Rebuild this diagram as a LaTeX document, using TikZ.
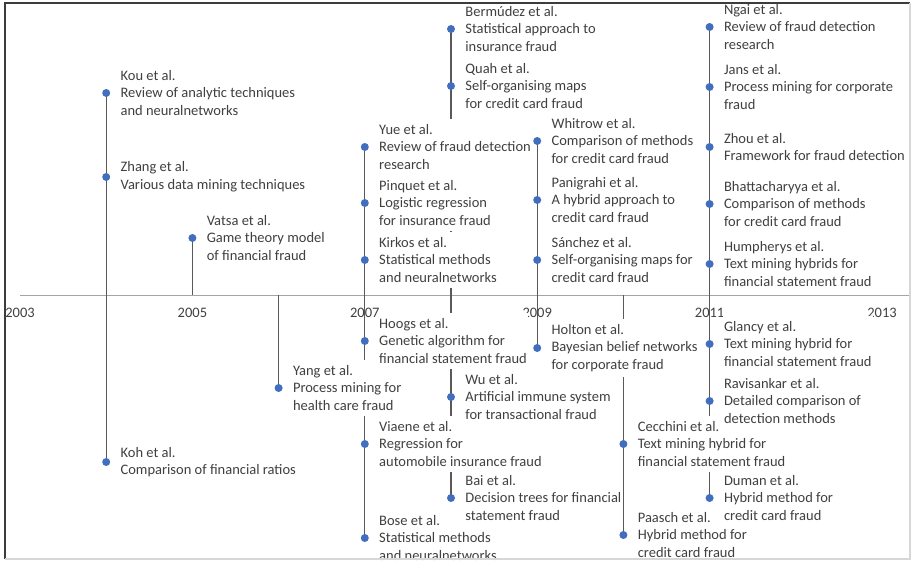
\documentclass[tikz,border=0pt]{standalone}
\usepackage{fontspec}
\setmainfont{Carlito}
\usetikzlibrary{positioning}
\definecolor{dotBlue}{RGB}{65,110,190}
\definecolor{textGray}{RGB}{64,64,64}
\definecolor{stemGray}{RGB}{89,89,89}
\definecolor{axisGray}{RGB}{165,165,165}
\definecolor{frameDark}{RGB}{60,60,60}
\definecolor{frameLight}{RGB}{215,215,215}
\pgfdeclarelayer{stems}
\pgfsetlayers{stems,main}

\begin{document}
\begin{tikzpicture}[x=1pt, y=-1pt,
			dot/.style={circle, fill=dotBlue, inner sep=0pt, minimum size=8pt},
			textbox/.style={fill=white, text=textGray, align=left, inner xsep=1pt, inner ysep=5.5pt, font=\fontsize{14.5}{17.6}\selectfont},
			yearText/.style={text=textGray, inner sep=0pt, font=\fontsize{14.5}{17.6}\selectfont},
			stem/.style={stemGray, line width=1.3pt},
			axis/.style={axisGray, line width=1pt},
			frameTop/.style={frameDark, line width=1.2pt},
			frameBottom/.style={frameLight, line width=1.2pt},
			]
			\useasboundingbox (0,0) rectangle (912,561);
			
			% years
			\foreach \yr in {2003,...,2013}
			\coordinate (a\yr) at ({20+86.2*(\yr-2003)},295);
			\coordinate (axisEnd) at (910,295);
			\foreach \yr in {2003,2005,...,2013}
			{\draw node[yearText][below=12.5pt of a\yr] (year\yr) {\yr};}
			
			% dots above the axis
			\draw node[dot] (kou) at (a2004 |- 0,93) {};
			\draw node[dot] (zhang) at (a2004 |- 0,177) {};
			\draw node[dot] (vatsa) at (a2005 |- 0,238) {};
			\draw node[dot] (yue) at (a2007 |- 0,147) {};
			\draw node[dot] (pinquet) at (a2007 |- 0,203) {};
			\draw node[dot] (kirkos) at (a2007 |- 0,260) {};
			\draw node[dot] (bermudez) at (a2008 |- 0,29) {};
			\draw node[dot] (quah) at (a2008 |- 0,86) {};
			\draw node[dot] (whitrow) at (a2009 |- 0,141) {};
			\draw node[dot] (panigrahi) at (a2009 |- 0,200) {};
			\draw node[dot] (sanchez) at (a2009 |- 0,260) {};
			\draw node[dot] (ngai) at (a2011 |- 0,27) {};
			\draw node[dot] (jans) at (a2011 |- 0,87) {};
			\draw node[dot] (zhou) at (a2011 |- 0,147) {};
			\draw node[dot] (bhatta) at (a2011 |- 0,204) {};
			\draw node[dot] (humpherys) at (a2011 |- 0,264) {};
			
			% dots below the axis
			\draw node[dot] (koh) at (a2004 |- 0,462) {};
			\draw node[dot] (yang) at (a2006 |- 0,388) {};
			\draw node[dot] (hoogs) at (a2007 |- 0,341) {};
			\draw node[dot] (viaene) at (a2007 |- 0,444) {};
			\draw node[dot] (bose) at (a2007 |- 0,538) {};
			\draw node[dot] (wu) at (a2008 |- 0,397) {};
			\draw node[dot] (bai) at (a2008 |- 0,498) {};
			\draw node[dot] (holton) at (a2009 |- 0,348) {};
			\draw node[dot] (cecchini) at (a2010 |- 0,444) {};
			\draw node[dot] (paasch) at (a2010 |- 0,535) {};
			\draw node[dot] (glancy) at (a2011 |- 0,344) {};
			\draw node[dot] (ravisankar) at (a2011 |- 0,401) {};
			\draw node[dot] (duman) at (a2011 |- 0,498) {};
			
			% stems
			\begin{pgfonlayer}{stems}
			\draw[axis] (a2003) -- (axisEnd);
			\draw[stem] (kou.center) -- (koh.center);
			\draw[stem] (vatsa.center) -- (a2005);
			\draw[stem] (a2006) -- (yang.center);
			\draw[stem] (yue.center) -- (bose.center);
			\draw[stem] (bermudez.center) -- (bai.center);
			\draw[stem] (whitrow.center) -- (holton.center);
			\draw[stem] (a2010) -- (paasch.center);
			\draw[stem] (ngai.center) -- (duman.center);
			\end{pgfonlayer}
			
			% texts above
			\draw node[textbox][right=9pt of kou] (kouText) {Kou et al.\\Review of analytic techniques\\and neuralnetworks};
			\draw node[textbox][right=9pt of zhang] (zhangText) {Zhang et al.\\Various data mining techniques};
			\draw node[textbox][right=9pt of vatsa] (vatsaText) {Vatsa et al.\\Game theory model\\of financial fraud};
			\draw node[textbox][right=9pt of yue] (yueText) {Yue et al.\\Review of fraud detection\\research};
			\draw node[textbox][right=9pt of pinquet] (pinquetText) {Pinquet et al.\\Logistic regression\\for insurance fraud};
			\draw node[textbox][right=9pt of kirkos] (kirkosText) {Kirkos et al.\\Statistical methods\\and neuralnetworks};
			\draw node[textbox][right=9pt of bermudez] (bermudezText) {Bermúdez et al.\\Statistical approach to\\insurance fraud};
			\draw node[textbox][right=9pt of quah] (quahText) {Quah et al.\\Self-organising maps\\for credit card fraud};
			\draw node[textbox][right=9pt of whitrow] (whitrowText) {Whitrow et al.\\Comparison of methods\\for credit card fraud};
			\draw node[textbox][right=9pt of panigrahi] (panigrahiText) {Panigrahi et al.\\A hybrid approach to\\credit card fraud};
			\draw node[textbox][right=9pt of sanchez] (sanchezText) {Sánchez et al.\\Self-organising maps for\\credit card fraud};
			\draw node[textbox][right=9pt of ngai] (ngaiText) {Ngai et al.\\Review of fraud detection\\research};
			\draw node[textbox][right=9pt of jans] (jansText) {Jans et al.\\Process mining for corporate\\fraud};
			\draw node[textbox][right=9pt of zhou] (zhouText) {Zhou et al.\\Framework for fraud detection};
			\draw node[textbox][right=9pt of bhatta] (bhattaText) {Bhattacharyya et al.\\Comparison of methods\\for credit card fraud};
			\draw node[textbox][right=9pt of humpherys] (humpherysText) {Humpherys et al.\\Text mining hybrids for\\financial statement fraud};
			
			% texts below
			\draw node[textbox][right=9pt of koh] (kohText) {Koh et al.\\Comparison of financial ratios};
			\draw node[textbox][right=9pt of yang] (yangText) {Yang et al.\\Process mining for\\health care fraud};
			\draw node[textbox][right=9pt of hoogs] (hoogsText) {Hoogs et al.\\Genetic algorithm for\\financial statement fraud};
			\draw node[textbox][right=9pt of bose] (boseText) {Bose et al.\\Statistical methods\\and neuralnetworks};
			\draw node[textbox][right=9pt of viaene] (viaeneText) {Viaene et al.\\Regression for\\automobile insurance fraud};
			\draw node[textbox][right=9pt of wu] (wuText) {Wu et al.\\Artificial immune system\\for transactional fraud};
			\draw node[textbox][right=9pt of bai] (baiText) {Bai et al.\\Decision trees for financial\\statement fraud};
			\draw node[textbox][right=9pt of holton] (holtonText) {Holton et al.\\Bayesian belief networks\\for corporate fraud};
			\draw node[textbox][right=9pt of paasch] (paaschText) {Paasch et al.\\Hybrid method for\\credit card fraud};
			\draw node[textbox][right=9pt of cecchini] (cecchiniText) {Cecchini et al.\\Text mining hybrid for\\financial statement fraud};
			\draw node[textbox][right=9pt of glancy] (glancyText) {Glancy et al.\\Text mining hybrid for\\financial statement fraud};
			\draw node[textbox][right=9pt of ravisankar] (ravisankarText) {Ravisankar et al.\\Detailed comparison of\\detection methods};
			\draw node[textbox][right=9pt of duman] (dumanText) {Duman et al.\\Hybrid method for\\credit card fraud};
			
			% frame
			\draw[frameTop] (5,559) -- (5,3) -- (910,3);
			\draw[frameBottom] (910,3) -- (910,559) -- (5,559);
			
		\end{tikzpicture}
\end{document}
